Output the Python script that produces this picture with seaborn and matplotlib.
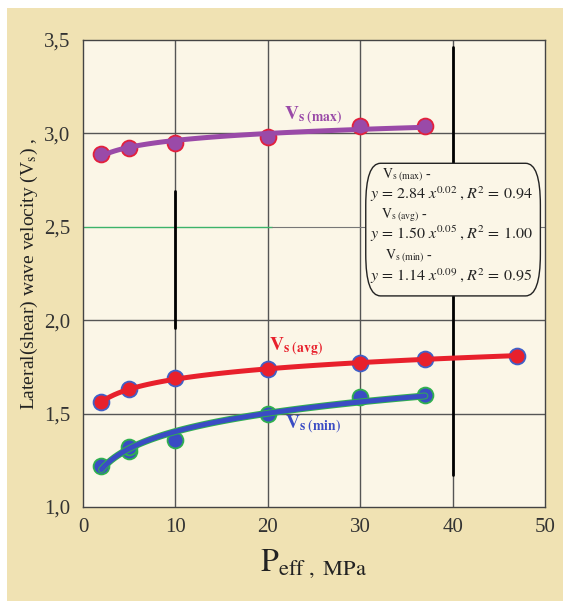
"""
Shear wave velocity vs effective pressure, power-law trend lines
"""

import numpy as np
import pandas as pd
import matplotlib
matplotlib.use('Agg')
import matplotlib.pyplot as plt
import matplotlib.patheffects as pe
from matplotlib.patches import FancyBboxPatch, Rectangle
import seaborn as sns

p_max = [2, 5, 10, 20, 30, 37]
vs_max = [2.89, 2.92, 2.95, 2.98, 3.04, 3.04]

p_avg = [2, 5, 10, 20, 30, 37, 47]
vs_avg = [1.56, 1.63, 1.69, 1.74, 1.77, 1.79, 1.81]

p_min = [2, 5, 5, 10, 20, 30, 37]
vs_min = [1.22, 1.30, 1.32, 1.36, 1.50, 1.59, 1.60]

x_ticks = [0, 10, 20, 30, 40, 50]
y_ticks = [1.0, 1.5, 2.0, 2.5, 3.0, 3.5]
y_ticklabels = ['1,0', '1,5', '2,0', '2,5', '3,0', '3,5']

fit_text = [r'$y\,=\,2.84\;x^{0.02}\;,R^{2}\,=\,0.94$',
            r'$y\,=\,1.50\;x^{0.05}\;,R^{2}\,=\,1.00$',
            r'$y\,=\,1.14\;x^{0.09}\;,R^{2}\,=\,0.95$']
fit_names = ['(max)', '(avg)', '(min)']

series = [
    ('max', p_max, vs_max, '#9a4aa8', '#e3203c', None),
    ('avg', p_avg, vs_avg, '#e8202c', '#4060c8', None),
    ('min', p_min, vs_min, '#3a4cc4', '#30b050', '#30b050'),
]

sns.set_theme(style='white')
plt.rcParams['font.family'] = ['Liberation Serif', 'DejaVu Serif']
plt.rcParams['mathtext.fontset'] = 'stix'

tan = '#f0e2b3'
face = '#fbf6e7'

fig = plt.figure(figsize=(5.63, 6.01), dpi=100, facecolor='white')
fig.patches.append(Rectangle((0.013, 0.0), 0.987, 0.986, transform=fig.transFigure,
                             facecolor=tan, edgecolor='none', zorder=-1))
ax = fig.add_axes([83 / 563, 1 - 507 / 601, 462 / 563, 467 / 601])
ax.set_facecolor(face)

# grid, with the odd darker / green pieces of the original
for xv in [10, 20, 30, 40]:
    ax.axvline(xv, color='#555555', lw=1.0, zorder=1)
for yv in [1.5, 2.0, 3.0]:
    ax.axhline(yv, color='#555555', lw=1.0, zorder=1)
ax.plot([0, 20.5], [2.5, 2.5], color='#3cb36a', lw=1.0, zorder=1)
ax.plot([20.5, 50], [2.5, 2.5], color='#777777', lw=0.8, zorder=1)
ax.plot([10, 10], [1.96, 2.69], color='black', lw=2.0, zorder=1)
ax.plot([40, 40], [2.79, 3.46], color='black', lw=2.0, zorder=1)
ax.plot([40, 40], [1.17, 2.13], color='black', lw=2.0, zorder=1)

for name, px, vy, col, edge, outline in series:
    df = pd.DataFrame({'P': px, 'Vs': vy})
    # power-law fit in log-log space
    b, a = np.polyfit(np.log(df['P']), np.log(df['Vs']), 1)
    xs = np.linspace(min(px), max(px), 100)
    fit = pd.DataFrame({'P': xs, 'Vs': np.exp(a) * xs ** b})
    sns.scatterplot(data=df, x='P', y='Vs', ax=ax, color=col, edgecolor=edge,
                    linewidth=1.3, s=130, zorder=3, legend=False)
    line = sns.lineplot(data=fit, x='P', y='Vs', ax=ax, color=col, lw=3.6,
                        zorder=4, legend=False)
    if outline:
        line.lines[-1].set_path_effects([pe.Stroke(linewidth=5.0, foreground=outline),
                                         pe.Normal()])

# curve labels
ax.text(21.7, 3.10, r'$\mathbf{V}_{\mathbf{s\ (max)}}$', color='#9a4aa8',
        fontsize=14, va='center', ha='left', zorder=5)
ax.text(20.1, 1.86, r'$\mathbf{V}_{\mathbf{s\ (avg)}}$', color='#e8202c',
        fontsize=14, va='center', ha='left', zorder=5)
ax.text(21.9, 1.445, r'$\mathbf{V}_{\mathbf{s\ (min)}}$', color='#3a4cc4',
        fontsize=14, va='center', ha='left', zorder=5)

# equation box
box = FancyBboxPatch((30.6, 2.13), 18.9, 0.71, boxstyle='round,pad=0,rounding_size=1.6',
                     mutation_aspect=0.14, facecolor=face, edgecolor='#222222',
                     lw=1.0, zorder=6)
ax.add_patch(box)
name_y = [2.775, 2.565, 2.345]
eq_y = [2.675, 2.46, 2.238]
name_x = [32.4, 32.2, 32.7]
for i in range(3):
    ax.text(name_x[i], name_y[i], r'$\mathrm{V}_{\mathrm{s\ ' + fit_names[i] + r'}}$ -',
            fontsize=10, va='center', ha='left', color='#222222', zorder=7)
    ax.text(31.1, eq_y[i], fit_text[i], fontsize=11.5, va='center', ha='left',
            color='#222222', zorder=7)

ax.set_xlim(0, 50)
ax.set_ylim(1.0, 3.5)
ax.set_xticks(x_ticks)
ax.set_yticks(y_ticks)
ax.set_yticklabels(y_ticklabels)
ax.tick_params(axis='both', length=0, labelsize=15, labelcolor='#333333')
ax.tick_params(axis='x', pad=8)
ax.tick_params(axis='y', pad=9)
for s in ax.spines.values():
    s.set_color('#444444')
    s.set_linewidth(1.0)

ax.set_xlabel(r'$\mathrm{P}_{\mathrm{eff\ ,\ MPa}}$', fontsize=23, color='#222222', labelpad=7)
ax.set_ylabel(r'Lateral(shear) wave velocity (V$_{\mathrm{s}}$) ,', fontsize=14,
              color='#222222', labelpad=3)

fig.savefig('out.png', dpi=100, facecolor=fig.get_facecolor())
